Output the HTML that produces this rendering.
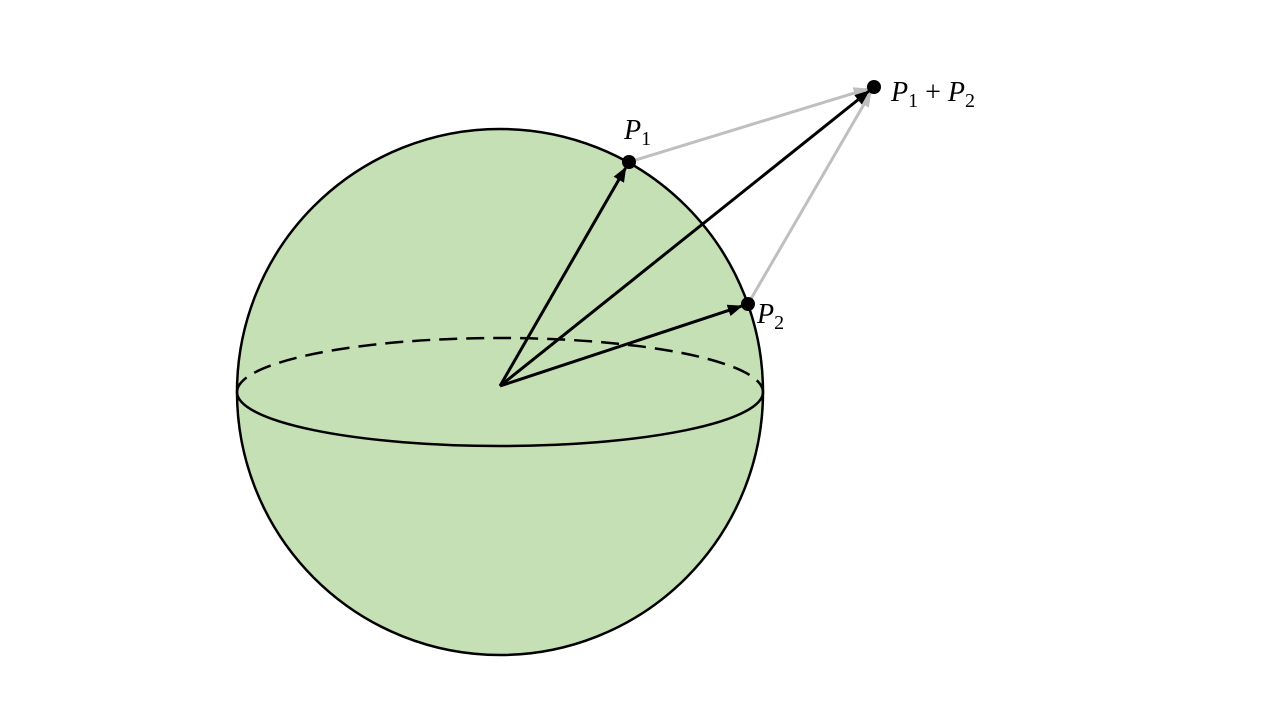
<!DOCTYPE html>
<html><head><meta charset="utf-8">
<style>
html,body{margin:0;padding:0;background:#fff;}
svg{display:block;}
text{font-family:"Liberation Serif","DejaVu Serif",serif;font-style:italic;fill:#000;}
</style></head>
<body>
<svg id="fig" width="1280" height="720" viewBox="0 0 1280 720">
<defs>
<marker id="ah" viewBox="0 0 10 10" refX="9" refY="5" markerWidth="5" markerHeight="5" orient="auto"><path d="M0,1 L10,5 L0,9 z" fill="#000"/></marker>
<marker id="ahg" viewBox="0 0 10 10" refX="9" refY="5" markerWidth="5" markerHeight="5" orient="auto"><path d="M0,1 L10,5 L0,9 z" fill="#bfbfbf"/></marker>
</defs>
<circle cx="500" cy="392" r="263" fill="#c5e0b4" stroke="#000" stroke-width="2.5"/>
<path d="M237,392 A263,54 0 0 1 763,392" fill="none" stroke="#000" stroke-width="2.5" stroke-dasharray="18,9"/>
<path d="M237,392 A263,54 0 0 0 763,392" fill="none" stroke="#000" stroke-width="2.5"/>
<g id="vecs"></g>
<text x="624" y="139" font-size="28">P<tspan font-size="20" dy="6" font-style="normal">1</tspan></text>
<text x="757" y="323" font-size="28">P<tspan font-size="20" dy="6" font-style="normal">2</tspan></text>
<text x="891" y="101" font-size="28">P<tspan font-size="20" dy="6" font-style="normal">1</tspan><tspan dy="-6" font-style="normal"> + </tspan>P<tspan font-size="20" dy="6" font-style="normal">2</tspan></text>
</svg>
<script>
const origin = [500, 386];
const pointNames = ["p1", "p2", "sum"];
const pointX = [629, 748, 874];
const pointY = [162, 304, 87];
const NS = "http://www.w3.org/2000/svg";
const g = document.getElementById("vecs");
function line(x1,y1,x2,y2,stroke,marker,name){
  const dx=x2-x1, dy=y2-y1, L=Math.hypot(dx,dy), s=(L-7)/L;
  const l=document.createElementNS(NS,"line");
  l.setAttribute("x1",x1);l.setAttribute("y1",y1);
  l.setAttribute("x2",x1+dx*s);l.setAttribute("y2",y1+dy*s);
  l.setAttribute("stroke",stroke);l.setAttribute("stroke-width","3");
  l.setAttribute("marker-end","url(#"+marker+")");
  
  
  g.appendChild(l);
}
line(pointX[0],pointY[0],pointX[2],pointY[2],"#bfbfbf","ahg","p1-to-sum-line");
line(pointX[1],pointY[1],pointX[2],pointY[2],"#bfbfbf","ahg","p2-to-sum-line");
for(let i=0;i<3;i++){
  line(origin[0],origin[1],pointX[i],pointY[i],"#000","ah","vector-"+pointNames[i]);
}
for(let i=0;i<3;i++){
  const c=document.createElementNS(NS,"circle");
  c.setAttribute("cx",pointX[i]);c.setAttribute("cy",pointY[i]);c.setAttribute("r","7");
  c.setAttribute("fill","#000");
  
  
  g.appendChild(c);
}
</script>
</body></html>
